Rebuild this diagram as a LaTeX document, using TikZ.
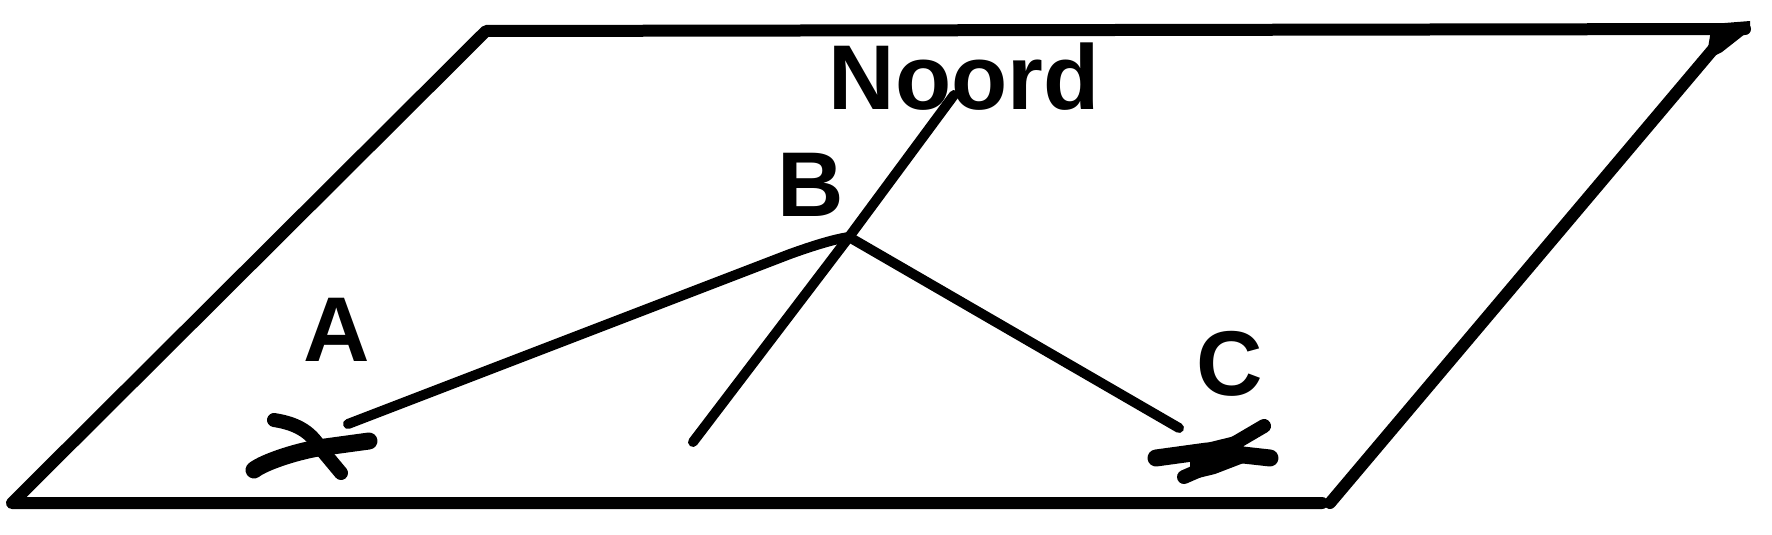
\documentclass[tikz,border=0pt]{standalone}
\usepackage{fontspec}
\setmainfont{Liberation Sans}[Ligatures=TeX]
\begin{document}
\begin{tikzpicture}[x=1pt,y=-1pt,
  edgeline/.style={draw=black,line width=12pt,line join=round,line cap=round},
  ray/.style={draw=black,line width=10pt,line join=round,line cap=round},
  crossmark/.style={draw=black,line width=17pt,line join=round,line cap=round},
  label/.style={font=\fontsize{92}{92}\selectfont\bfseries,text=black,inner sep=0pt,anchor=base}]
\useasboundingbox (0,0) rectangle (1772,535);
\coordinate (bl) at (12,503);
\coordinate (tl) at (486,31);
\coordinate (tr) at (1745,29);
\coordinate (br) at (1330,503);
\coordinate (br2) at (1322,503);
\coordinate (j) at (849,237);
\coordinate (ae) at (348,424);
\coordinate (ce) at (1179,428);
\coordinate (nt) at (954,95);
\coordinate (nb) at (693,442);
% parallelogram
\draw[edgeline] (br2) -- (bl) -- (tl) -- (tr);
\draw[edgeline] (br) -- (1715,47);
\fill (1712,24) -- (1750,21) -- (1750,30) -- (1722,52) -- (1706,60) -- cycle;
% rays
\draw[ray] (ae) -- (790,254) .. controls (815,245) and (835,239) .. (j);
\draw[ray] (j) -- (ce);
\draw[ray] (nb) -- (j) -- (nt);
% crossings
\draw[crossmark] (254,470) .. controls (264,462) and (300,450) .. (325,447) -- (369,441);
\draw[crossmark,line width=14pt] (274,420) .. controls (300,424) and (312,434) .. (321,449) -- (341,473);
\draw[crossmark] (1156,458) -- (1207,451) -- (1270,458);
\draw[crossmark,line width=14pt] (1184,477) -- (1200,470) -- (1235,443) -- (1264,426);
\fill (1190,447) -- (1235,436) -- (1254,459) -- (1215,474) -- (1190,480) -- cycle;
% labels
\node[label] (noord) at (964,109) {Noord};
\node[label] (b) at (811,216) {B};
\node[label] (a) at (337,361) {A};
\node[label] (c) at (1230,395) {C};
\end{tikzpicture}
\end{document}
